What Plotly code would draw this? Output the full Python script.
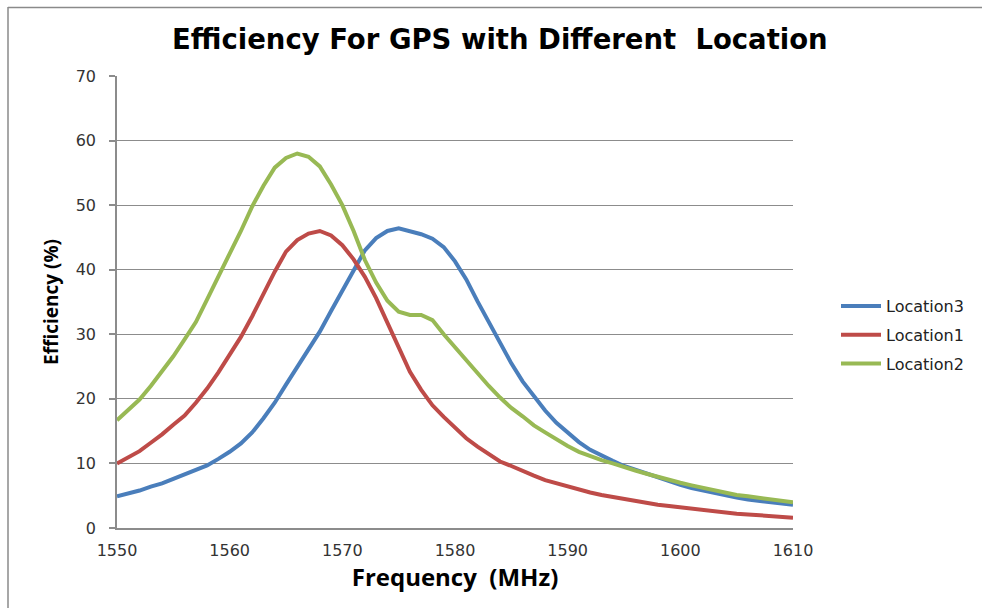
import plotly.graph_objects as go

freq = list(range(1550, 1611))

location3 = [4.9, 5.3, 5.8, 6.4, 6.9, 7.6, 8.3, 8.9, 9.7, 10.7,
             11.8, 13.1, 14.8, 17.0, 19.4, 22.2, 25.0, 27.6, 30.4, 33.6,
             36.8, 40.0, 43.0, 44.9, 46.0, 46.4, 46.0, 45.5, 44.8, 43.5,
             41.3, 38.5, 35.1, 31.8, 28.5, 25.5, 22.7, 20.4, 18.2, 16.3,
             14.8, 13.3, 12.1, 11.2, 10.4, 9.6, 9.0, 8.4, 7.8, 7.2,
             6.7, 6.2, 5.8, 5.4, 5.0, 4.7, 4.4, 4.2, 4.0, 3.8, 3.6]

location1 = [10.0, 10.9, 11.9, 13.2, 14.5, 16.0, 17.4, 19.4, 21.6, 24.1,
             26.8, 29.6, 32.8, 36.3, 39.7, 42.8, 44.6, 45.6, 46.0, 45.3,
             43.8, 41.6, 38.9, 35.6, 31.8, 27.8, 24.2, 21.4, 19.0, 17.2,
             15.5, 13.9, 12.6, 11.4, 10.3, 9.6, 8.8, 8.1, 7.4, 6.9,
             6.4, 6.0, 5.5, 5.1, 4.8, 4.5, 4.1, 3.9, 3.6, 3.4,
             3.2, 2.9, 2.7, 2.5, 2.4, 2.2, 2.1, 2.0, 1.9, 1.8, 1.6]

location2 = [16.7, 18.3, 19.9, 22.0, 24.2, 26.6, 29.2, 31.9, 35.4, 38.8,
             42.5, 46.0, 49.8, 53.0, 55.8, 57.3, 58.0, 57.5, 56.0, 53.2,
             50.0, 46.0, 41.5, 38.0, 35.2, 33.5, 33.0, 33.0, 32.2, 30.0,
             28.0, 25.8, 23.8, 22.0, 20.2, 18.6, 17.3, 15.9, 14.8, 13.7,
             12.7, 11.8, 11.1, 10.5, 10.0, 9.4, 8.9, 8.4, 7.9, 7.5,
             7.0, 6.6, 6.2, 5.8, 5.4, 5.1, 4.9, 4.7, 4.5, 4.3, 4.0]

series_names = ["Location3", "Location1", "Location2"]
series_values = [location3, location1, location2]
series_colors = ["#4A7EBB", "#BE4B48", "#98B954"]

x_ticks = [1550, 1560, 1570, 1580, 1590, 1600, 1610]
y_ticks = [0, 10, 20, 30, 40, 50, 60, 70]

fig = go.Figure()
for name, vals, col in zip(series_names, series_values, series_colors):
    fig.add_trace(go.Scatter(
        x=freq, y=vals, mode="lines", name=name, legendgroup=name,
        line=dict(color=col, width=4),
    ))

W, H = 982, 608
L, R, T, B = 117, 982 - 793, 76, 608 - 528
pw, ph = W - L - R, H - T - B

def px_x(p):
    return (p - L) / pw

def px_y(p):
    return (H - B - p) / ph

grid = "#8C8C8C"
fig.update_layout(
    width=W, height=H,
    margin=dict(l=L, r=R, t=T, b=B, pad=0),
    paper_bgcolor="white", plot_bgcolor="white",
    font=dict(family="DejaVu Sans", color="#333333"),
    title=dict(
        text="<b>Efficiency For GPS with Different  Location</b>",
        font=dict(family="DejaVu Sans", size=27.5, color="black"),
        x=0.509, xanchor="center", y=1 - 39 / H, yanchor="middle",
    ),
    xaxis=dict(
        range=[1550, 1610], tickvals=x_ticks, ticks="",
        showgrid=False, zeroline=False,
        showline=True, linecolor=grid, linewidth=1.5,
        tickfont=dict(family="DejaVu Sans", size=16, color="#333333"),
        ticklabelstandoff=7,
        title=dict(text="<b>Frequency  (MHz)</b>",
                   font=dict(family="Open Sans", size=24, color="black"),
                   standoff=6),
    ),
    yaxis=dict(
        range=[0, 70], tickvals=y_ticks, ticks="outside", ticklen=6,
        tickcolor=grid, tickwidth=1.5,
        showgrid=True, gridcolor=grid, gridwidth=1.3, zeroline=False,
        showline=True, linecolor=grid, linewidth=1.5,
        tickfont=dict(family="DejaVu Sans", size=16, color="#333333"),
        ticklabelstandoff=10,
        title=dict(text="<b>Efficiency (%)</b>",
                   font=dict(family="Open Sans", size=19, color="black"),
                   standoff=12),
    ),
    legend=dict(
        x=px_x(836), xanchor="left", y=px_y(289), yanchor="top",
        font=dict(family="DejaVu Sans", size=16, color="#222222"),
        tracegroupgap=5, bgcolor="rgba(0,0,0,0)", itemwidth=40,
    ),
    shapes=[
        dict(type="line", xref="paper", yref="paper",
             x0=px_x(8), x1=px_x(8), y0=px_y(7), y1=px_y(620),
             line=dict(color="#8A8A8A", width=1.5)),
        dict(type="line", xref="paper", yref="paper",
             x0=px_x(8), x1=px_x(982), y0=px_y(7.5), y1=px_y(7.5),
             line=dict(color="#8A8A8A", width=1.5)),
    ],
)

fig.write_html(
    "out.html",
    config={"displayModeBar": False},
    post_script="document.body.style.margin='0';document.body.style.overflow='hidden';",
)
